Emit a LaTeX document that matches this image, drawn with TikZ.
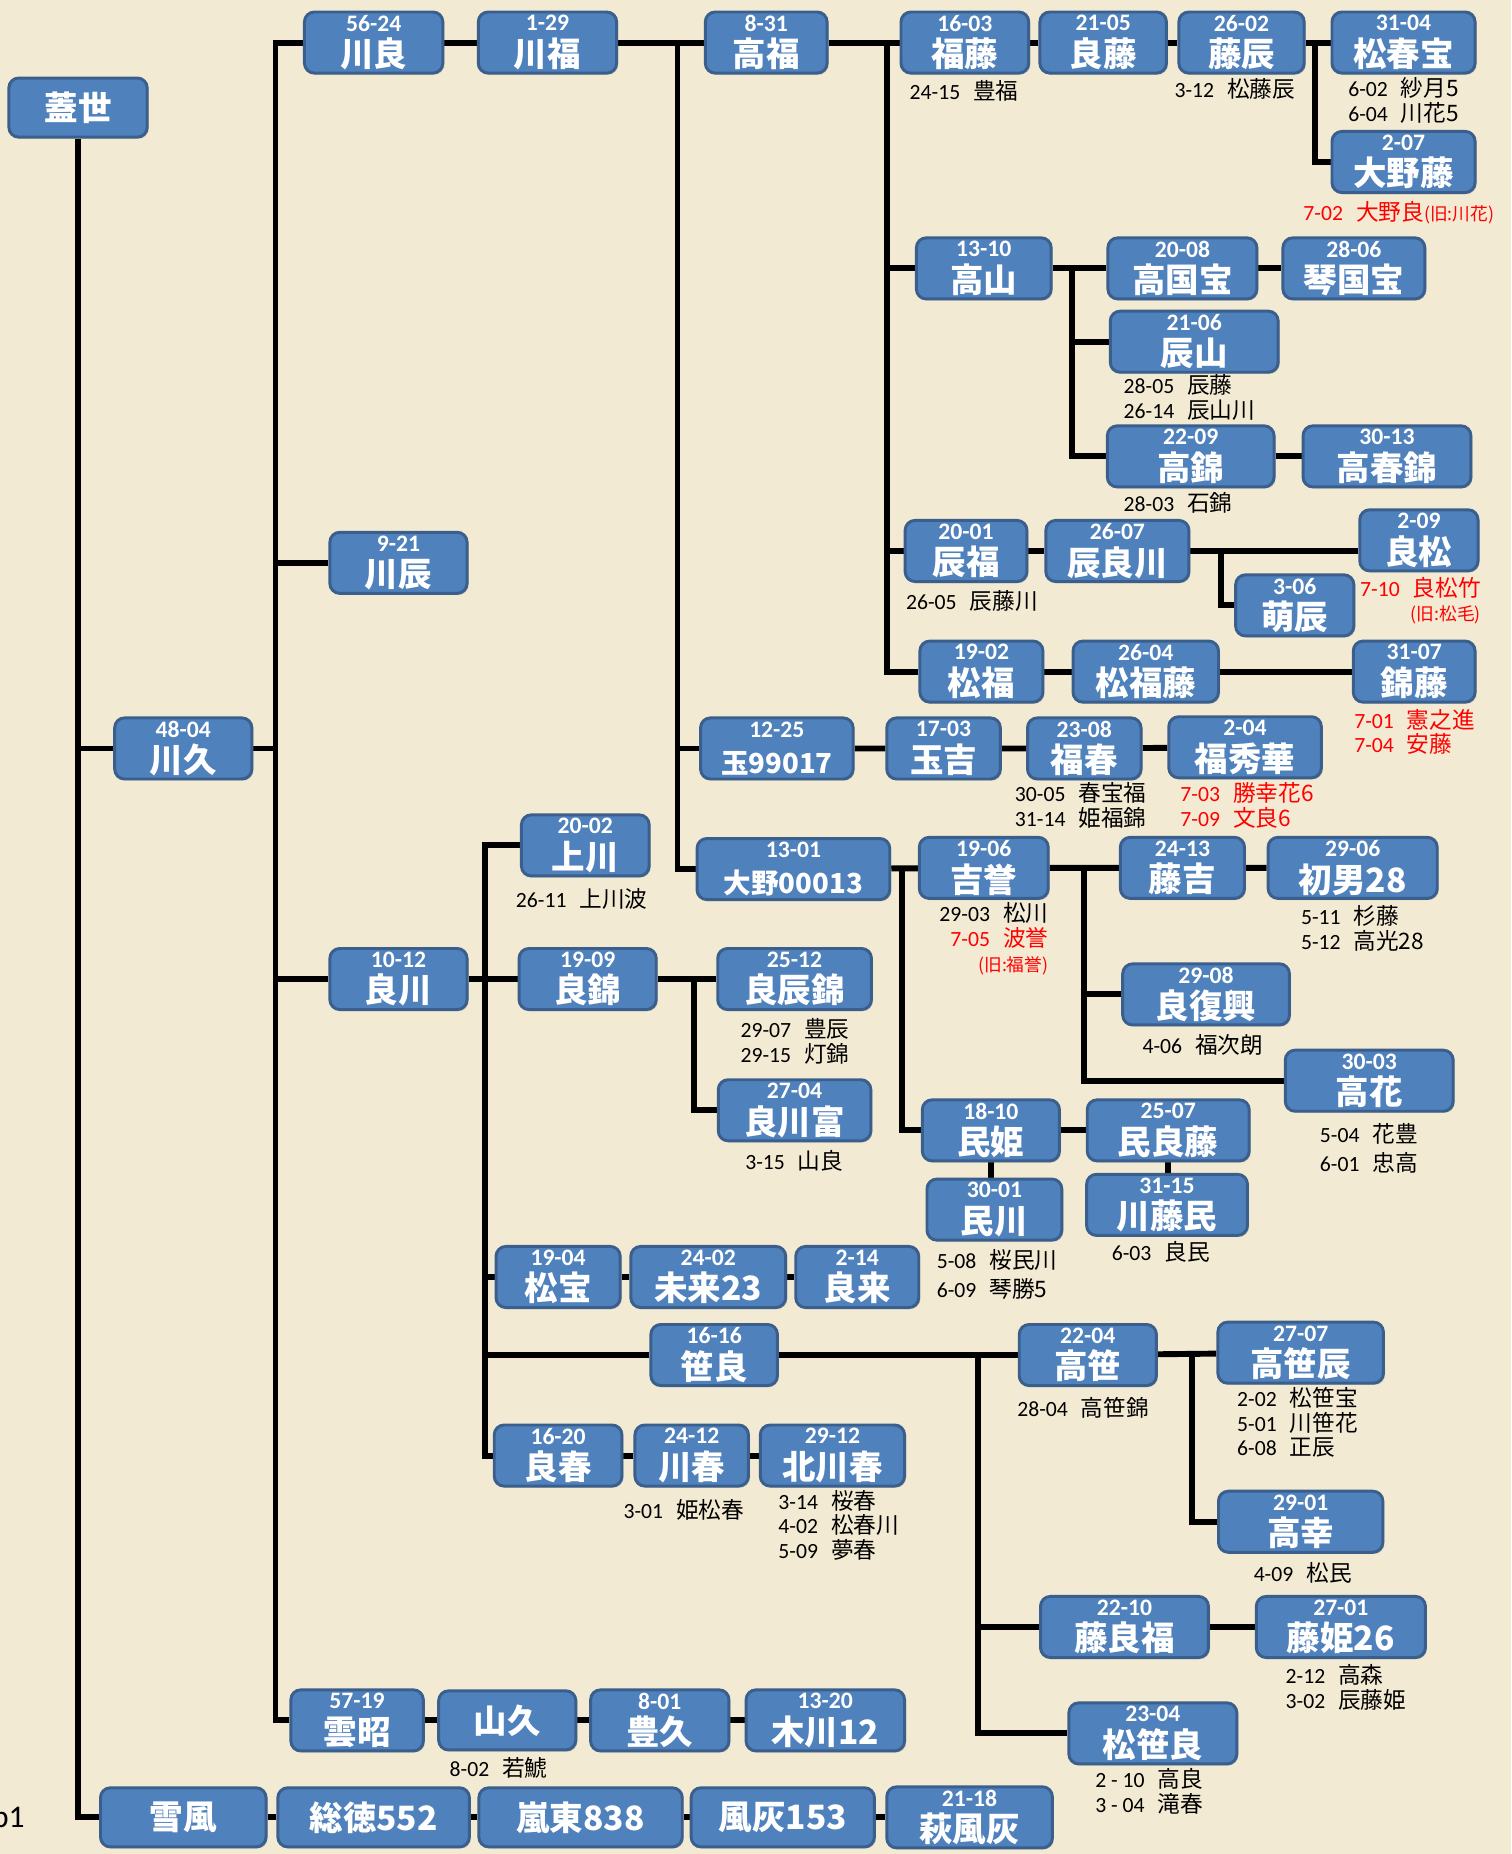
\documentclass[tikz,border=0pt]{standalone}
\usepackage{fontspec}
\setmainfont{Carlito}
\newfontfamily\jp{Noto Sans CJK JP}
\usetikzlibrary{shadows}
\definecolor{paper}{HTML}{F3EAD3}
\definecolor{boxfill}{HTML}{4F81BD}
\definecolor{boxedge}{HTML}{3A5F8D}
\definecolor{annred}{HTML}{FF0000}
\newcommand\dt[1]{{\fontsize{12}{18}\selectfont\bfseries #1}}
\newcommand\nm[1]{{\jp\fontsize{17}{18}\selectfont\bfseries #1}}
\newcommand\nmsmall{\fontsize{14}{18}\selectfont}
\newcommand\an[2]{#1\hspace{0.6em}{\jp\fontsize{11.5}{12.6}\selectfont #2}}
\newcommand\old[1]{{\jp\fontsize{9}{10}\selectfont(旧:#1)}}
\pgfdeclarelayer{paperlayer}
\pgfdeclarelayer{linelayer}
\pgfsetlayers{paperlayer,linelayer,main}

\begin{document}
\begin{tikzpicture}[x=0.6pt,y=-0.6pt,
  box/.style={draw=boxedge,fill=boxfill,line width=1.5pt,rounded corners=5pt,
    text=white,align=center,minimum height=31pt,inner sep=0pt,
    font=\fontsize{12}{18}\selectfont,
    drop shadow={shadow xshift=0.8pt,shadow yshift=-0.8pt,opacity=0.3}},
  tree/.style={line width=3pt,black},
  ann/.style={anchor=west,align=left,inner sep=0pt,font=\fontsize{11}{12.6}\selectfont},
  annred/.style={ann,text=annred}]
  \useasboundingbox (0,0) rectangle (1278,1568);
  \begin{pgfonlayer}{paperlayer}
    \fill[paper] (0,0) rectangle (1278,1568);
  \end{pgfonlayer}

  % boxes with date
  \foreach \nid/\xx/\yy/\ww/\dat/\txt in {%
    kawayoshi/316/36/117/56-24/川良,
    kawafuku/463/36/117/1-29/川福,
    takafuku/648/36/103/8-31/高福,
    fukufuji/816/36/108/16-03/福藤,
    yoshifuji/933/36/107/21-05/良藤,
    fujitatsu/1050/36/106/26-02/藤辰,
    matsuharu/1187/36/121/31-04/松春宝,
    onofuji/1187/137/121/2-07/大野藤,
    takayama/832/227/114/13-10/高山,
    takakoku/1000/227/126/20-08/高国宝,
    kotokoku/1145/227/120/28-06/琴国宝,
    tatsuyama/1010/289/142/21-06/辰山,
    takanishiki/1007/386/141/22-09/高錦,
    takaharu/1173/386/142/30-13/高春錦,
    tatsufuku/817/466/103/20-01/辰福,
    tatsuyoshi/945/466/121/26-07/辰良川,
    yoshimatsu/1200/457/100/2-09/良松,
    moetatsu/1095/512/100/3-06/萌辰,
    matsufuku/830/568/104/19-02/松福,
    matsufukufuji/969/568/123/26-04/松福藤,
    nishikifuji/1196/568/103/31-07/錦藤,
    gyoku/657/633/129/12-25/{\nmsmall 玉99017},
    gyokukichi/798/633/96/17-03/玉吉,
    fukuharu/917/633/96/23-08/福春,
    fukuhide/1053/632/129/2-04/福秀華,
    ono/671/735/163/13-01/{\nmsmall 大野00013},
    kichiho/832/734/109/19-06/吉誉,
    fujikichi/1000/734/105/24-13/藤吉,
    hatsuo/1144/734/143/29-06/初男28,
    yoshifukko/1020/841/141/29-08/良復興,
    takahana/1158/914/142/30-03/高花,
    minhime/838/956/116/18-10/民姫,
    minyoshi/988/956/137/25-07/民良藤,
    minkawa/841/1023/114/30-01/民川,
    kawafujimin/987/1019/136/31-15/川藤民,
    kawaku/155/633/116/48-04/川久,
    kawatatsu/337/476/116/9-21/川辰,
    yoshikawa/337/828/116/10-12/良川,
    kamikawa/495/715/108/20-02/上川,
    yoshinishiki/497/828/116/19-09/良錦,
    yoshitatsunishiki/672/828/130/25-12/良辰錦,
    yoshikawatomi/672/939/129/27-04/良川富,
    matsuho/472/1080/105/19-04/松宝,
    mirai/599/1080/131/24-02/未来23,
    yoshiki/725/1080/104/2-14/良来,
    sasayoshi/604/1146/107/16-16/笹良,
    takasasa/920/1146/116/22-04/高笹,
    takasasatatsu/1100/1144/140/27-07/高笹辰,
    takayuki/1100/1287/139/29-01/高幸,
    fujiyoshifuku/951/1376/142/22-10/藤良福,
    fujihime/1134/1376/143/27-01/藤姫26,
    matsusasa/975/1466/142/23-04/松笹良,
    yoshiharu/472/1231/108/16-20/良春,
    kawaharu/585/1231/96/24-12/川春,
    kitakawa/704/1231/122/29-12/北川春,
    unsho/302/1455/112/57-19/雲昭,
    hoku/558/1455/117/8-01/豊久,
    kikawa/698/1455/134/13-20/木川12,
    hagi/820/1537/140/21-18/萩風灰%
  }{
    \node[box,minimum width=\ww*0.6pt] (\nid) at (\xx,\yy) {\dt{\dat}\\\nm{\txt}};
  }
  % boxes without date
  \foreach \nid/\xx/\yy/\ww/\txt in {%
    gaisei/66/91/117/蓋世,
    yamaku/429/1455/116/山久,
    seppu/155/1537/140/雪風,
    sotoku/316/1537/162/総徳552,
    ranto/491/1537/172/嵐東838,
    fukai/662/1537/155/風灰153%
  }{
    \node[box,minimum width=\ww*0.6pt,minimum height=30pt] (\nid) at (\xx,\yy) {\nm{\txt}};
  }

  % notes under the boxes
  \foreach \nid/\xx/\yy/\txt in {%
    n1/769/77/{\an{24-15}{豊福}},
    n2/993/75/{\an{3-12}{松藤辰}},
    n3/1140/85/{\an{6-02}{紗月5}\\\an{6-04}{川花5}},
    n5/950/336/{\an{28-05}{辰藤}\\\an{26-14}{辰山川}},
    n6/950/425/{\an{28-03}{石錦}},
    n7/766/508/{\an{26-05}{辰藤川}},
    n10/858/681/{\an{30-05}{春宝福}\\\an{31-14}{姫福錦}},
    n13/1100/785/{\an{5-11}{杉藤}\\\an{5-12}{高光28}},
    n14/966/884/{\an{4-06}{福次朗}},
    n15/1116/971/{\an{5-04}{花豊}\\[2pt]\an{6-01}{忠高}},
    n16/792/1078/{\an{5-08}{桜民川}\\[2pt]\an{6-09}{琴勝5}},
    n17/940/1059/{\an{6-03}{良民}},
    n18/436/760/{\an{26-11}{上川波}},
    n19/626/881/{\an{29-07}{豊辰}\\\an{29-15}{灯錦}},
    n20/630/982/{\an{3-15}{山良}},
    n21/860/1191/{\an{28-04}{高笹錦}},
    n22/1046/1203/{\an{2-02}{松笹宝}\\\an{5-01}{川笹花}\\\an{6-08}{正辰}},
    n23/1060/1330/{\an{4-09}{松民}},
    n24/1087/1427/{\an{2-12}{高森}\\\an{3-02}{辰藤姫}},
    n25/926/1515/{\an{2 - 10}{高良}\\\an{3 - 04}{滝春}},
    n26/527/1277/{\an{3-01}{姫松春}},
    n27/658/1290/{\an{3-14}{桜春}\\\an{4-02}{松春川}\\\an{5-09}{夢春}},
    n28/380/1495/{\an{8-02}{若鯱}}%
  }{
    \node[ann] (\nid) at (\xx,\yy) {\txt};
  }
  \node[annred] (n4) at (1102,180) {\an{7-02}{大野良}\old{川花}};
  \node[annred,align=right] (n8) at (1150,508) {\an{7-10}{良松竹}\\\old{松毛}};
  \node[annred] (n9) at (1145,619) {\an{7-01}{憲之進}\\\an{7-04}{安藤}};
  \node[annred] (n11) at (998,681) {\an{7-03}{勝幸花6}\\\an{7-09}{文良6}};
  \node[ann,anchor=east,align=right] (n12) at (887,794)
    {\an{29-03}{松川}\\\textcolor{annred}{\an{7-05}{波誉}}\\\textcolor{annred}{\old{福誉}}};
  \node[ann,font=\fontsize{16}{16}\selectfont] (b1) at (-7,1536) {b1};

  \begin{pgfonlayer}{linelayer}
    % root
    \draw[tree] (gaisei.south) |- (seppu.west);
    \draw[tree] (kawaku.west) -- (kawaku.west -| gaisei.south);
    \draw[tree] (seppu) -- (sotoku) -- (ranto) -- (fukai) -- (hagi);
    % 川久
    \coordinate (t1) at (233,1455);
    \draw[tree] (kawayoshi.west) -| (t1) -- (unsho.west);
    \foreach \n in {kawaku.east,kawatatsu.west,yoshikawa.west}
      \draw[tree] (\n) -- (\n -| t1);
    \draw[tree] (unsho) -- (yamaku) -- (hoku) -- (kikawa);
    % 川良 - 高福
    \draw[tree] (kawayoshi) -- (kawafuku) -- (takafuku) -- (fukufuji)
      -- (yoshifuji) -- (fujitatsu) -- (matsuharu);
    \coordinate (t2) at (573,36);
    \draw[tree] (t2) |- (ono.west);
    \draw[tree] (gyoku.west) -- (gyoku.west -| t2);
    \coordinate (t3) at (1112,36);
    \draw[tree] (t3) |- (onofuji.west);
    \coordinate (t4) at (750,36);
    \draw[tree] (t4) |- (matsufuku.west);
    \foreach \n in {takayama.west,tatsufuku.west}
      \draw[tree] (\n) -- (\n -| t4);
    % 高山
    \draw[tree] (takayama) -- (takakoku) -- (kotokoku);
    \coordinate (t5) at (907,227);
    \draw[tree] (t5) |- (takanishiki.west);
    \draw[tree] (tatsuyama.west) -- (tatsuyama.west -| t5);
    \draw[tree] (takanishiki) -- (takaharu);
    % 辰福
    \draw[tree] (tatsufuku) -- (tatsuyoshi);
    \draw[tree] (tatsuyoshi.east) -- (tatsuyoshi.east -| yoshimatsu.west);
    \coordinate (t6) at (1033,466);
    \draw[tree] (t6) |- (moetatsu.west);
    \draw[tree] (matsufuku) -- (matsufukufuji) -- (nishikifuji);
    \draw[tree] (gyoku) -- (gyokukichi) -- (fukuharu) -- (fukuhide);
    % 大野00013
    \draw[tree] (ono) -- (kichiho) -- (fujikichi) -- (hatsuo);
    \coordinate (t7) at (763,734);
    \draw[tree] (t7) |- (minhime.west);
    \coordinate (t8) at (917,734);
    \draw[tree] (t8) |- (takahana.west);
    \draw[tree] (yoshifukko.west) -- (yoshifukko.west -| t8);
    \draw[tree] (minhime) -- (minyoshi);
    \draw[tree] (minhime.south) -- (minhime.south |- minkawa.north);
    \draw[tree] (minyoshi.south) -- (minyoshi.south |- kawafujimin.north);
    % 良川
    \draw[tree] (yoshikawa) -- (yoshinishiki) -- (yoshitatsunishiki);
    \coordinate (t9) at (410,1231);
    \draw[tree] (kamikawa.west) -| (t9) -- (yoshiharu.west);
    \foreach \n in {matsuho.west,sasayoshi.west}
      \draw[tree] (\n) -- (\n -| t9);
    \coordinate (t10) at (587,828);
    \draw[tree] (t10) |- (yoshikawatomi.west);
    \draw[tree] (matsuho) -- (mirai) -- (yoshiki);
    \draw[tree] (yoshiharu) -- (kawaharu) -- (kitakawa);
    % 笹良
    \draw[tree] (sasayoshi) -- (takasasa) -- (takasasatatsu);
    \coordinate (t11) at (827,1146);
    \draw[tree] (t11) |- (matsusasa.west);
    \draw[tree] (fujiyoshifuku.west) -- (fujiyoshifuku.west -| t11);
    \draw[tree] (fujiyoshifuku) -- (fujihime);
    \coordinate (t12) at (1008,1146);
    \draw[tree] (t12) |- (takayuki.west);
  \end{pgfonlayer}
\end{tikzpicture}
\end{document}
